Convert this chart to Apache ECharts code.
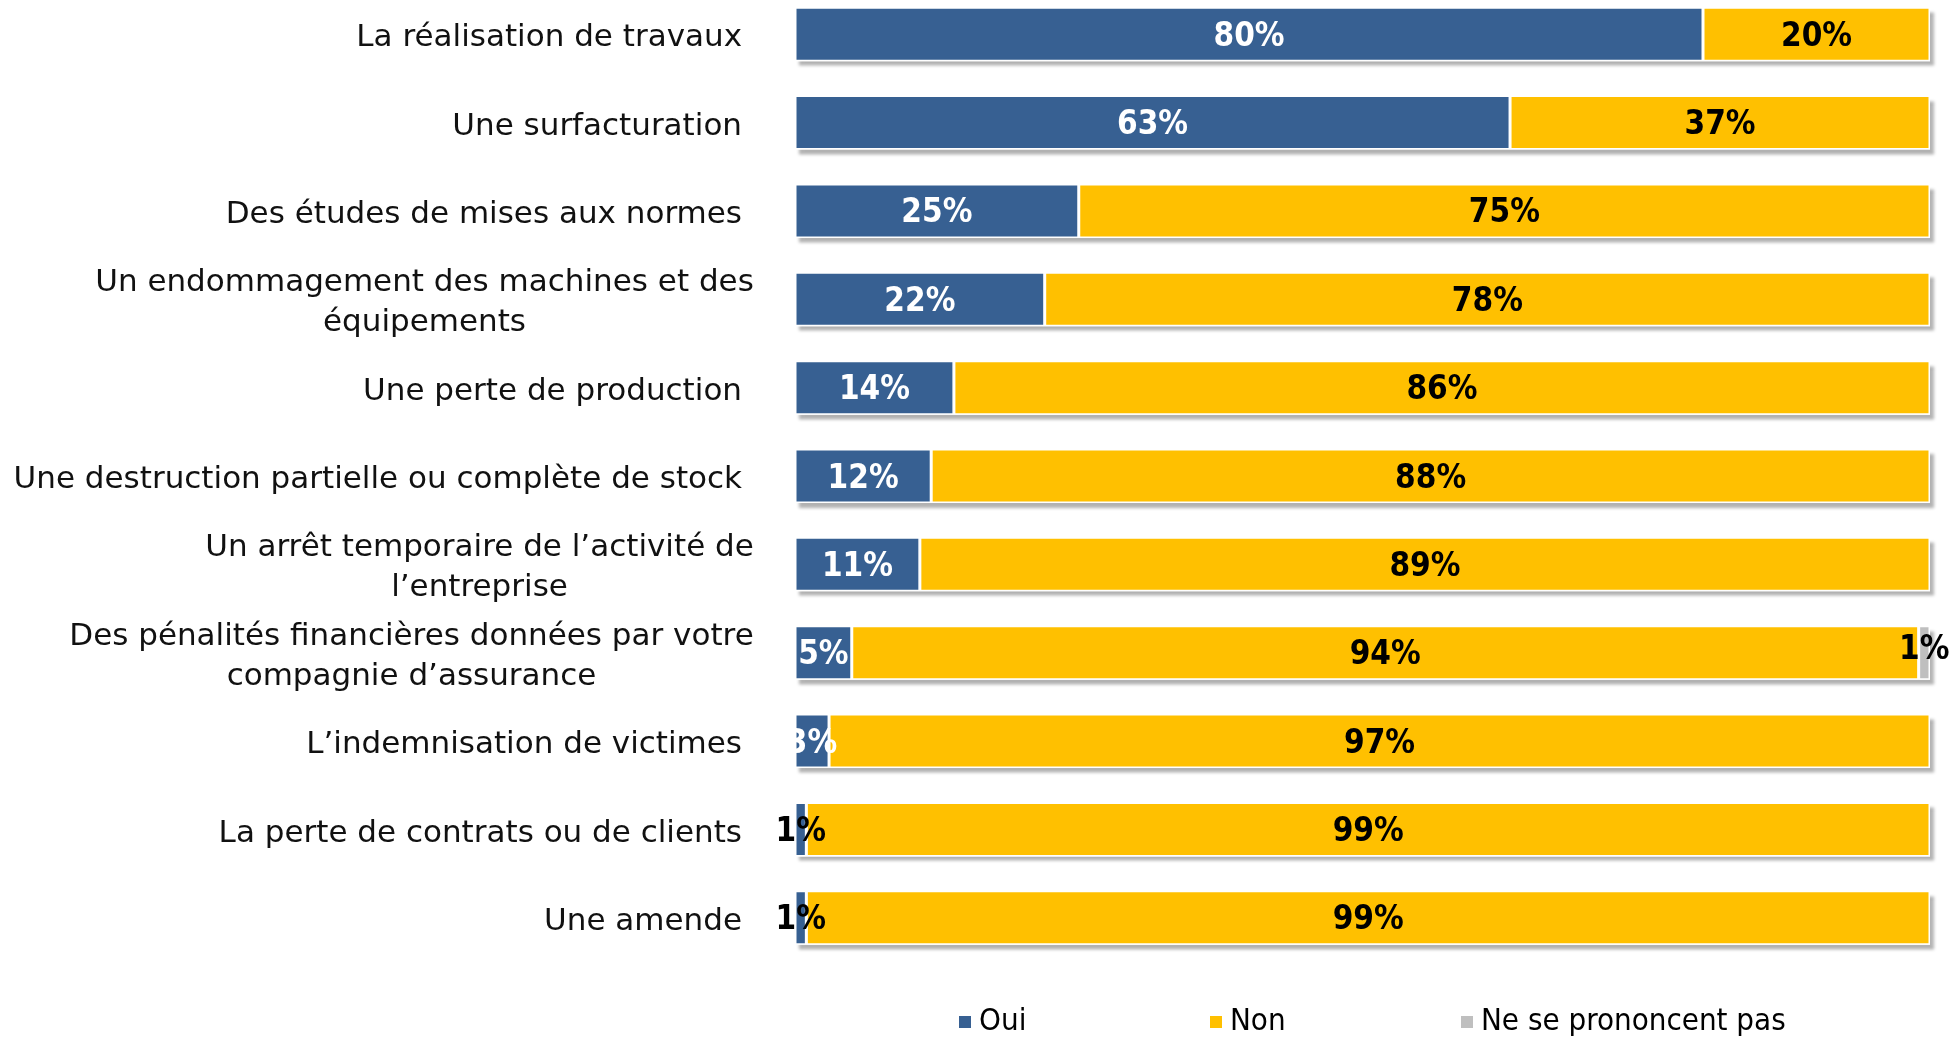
<!DOCTYPE html>
<html>
<head>
<meta charset="utf-8">
<script src="https://cdn.jsdelivr.net/npm/echarts@6/dist/echarts.min.js"></script>
<style>
  html, body { margin: 0; padding: 0; background: #fff; overflow: hidden; }
  #main { position: absolute; left: 0; top: -10px; width: 1959px; height: 1047px; }
</style>
</head>
<body>
<div id="main"></div>
<script>
  const categories = [
    'La réalisation de travaux',
    'Une surfacturation',
    'Des études de mises aux normes',
    'Un endommagement des machines et des\néquipements',
    'Une perte de production',
    'Une destruction partielle ou complète de stock',
    'Un arrêt temporaire de l’activité de\nl’entreprise',
    'Des pénalités financières données par votre\ncompagnie d’assurance',
    'L’indemnisation de victimes',
    'La perte de contrats ou de clients',
    'Une amende'
  ]
  const seriesNames = ['Oui', 'Non', 'Ne se prononcent pas']
  const oui = [80, 63, 25, 22, 14, 12, 11, 5, 3, 1, 1]
  const non = [20, 37, 75, 78, 86, 88, 89, 94, 97, 99, 99]
  const nsp = [0, 0, 0, 0, 0, 0, 0, 1, 0, 0, 0]

  const catFont = '31px "DejaVu Sans"'
  const ctx = document.createElement('canvas').getContext('2d')
  ctx.font = catFont

  // wrapped labels are centred on their longest line, single lines right-aligned
  let rich = { s: { padding: [0, 12, 0, 0], lineHeight: 40 } }
  categories.forEach((c, i) => {
    if (c.indexOf('\n') >= 0) {
      let w = Math.max(...c.split('\n').map(l => ctx.measureText(l).width))
      rich['m' + i] = { width: Math.ceil(w), align: 'center', lineHeight: 40 }
    }
  })

  // full row length, only used to paint the drop shadow behind each bar
  let totals = oui.map((v, i) => v + non[i] + nsp[i])

  const narrow = '"DejaVu Sans Condensed", "Liberation Sans Narrow", sans-serif'
  const segStyle = { borderColor: '#fff', borderWidth: 1.5 }
  const valueLabel = {
    show: true,
    position: 'inside',
    offset: [0, 3],
    color: '#000',
    fontFamily: narrow,
    fontWeight: 'bold',
    fontSize: 33,
    formatter: p => p.value + '%'
  }

  let myChart = echarts.init(document.getElementById('main'))
  myChart.setOption({
    animation: false,
    color: ['#376092', '#FFC000', '#BFBFBF'],
    legend: {
      data: seriesNames,
      left: 957,
      top: 1014,
      padding: 0,
      icon: 'rect',
      itemWidth: 14,
      itemHeight: 14,
      itemGap: 5,
      textStyle: {
        fontFamily: narrow,
        fontSize: 31,
        lineHeight: 36,
        color: '#000',
        width: 224,
        padding: [0, 0, 0, 2]
      }
    },
    grid: {
      left: 795,
      right: 29,
      top: 0,
      bottom: 75
    },
    xAxis: {
      type: 'value',
      min: 0,
      max: 100,
      show: false
    },
    yAxis: {
      type: 'category',
      inverse: true,
      data: categories,
      axisLine: { show: false },
      axisTick: { show: false },
      axisLabel: {
        margin: 41,
        padding: [8, 0, 0, 0],
        fontFamily: '"DejaVu Sans", sans-serif',
        fontSize: 31,
        color: '#111',
        lineHeight: 40,
        rich: rich,
        formatter: (value, idx) => {
          if (value.indexOf('\n') >= 0) {
            return value.split('\n').map(l => '{m' + idx + '|' + l + '}').join('\n')
          }
          return '{s|' + value + '}'
        }
      }
    },
    series: [
      {
        name: 'shadow',
        type: 'bar',
        barWidth: 54,
        barGap: '-100%',
        silent: true,
        itemStyle: {
          color: '#fff',
          shadowColor: 'rgba(0,0,0,0.3)',
          shadowBlur: 3,
          shadowOffsetX: 4,
          shadowOffsetY: 5
        },
        data: totals
      },
      {
        name: seriesNames[0],
        type: 'bar',
        stack: 'total',
        barWidth: 54,
        barGap: '-100%',
        itemStyle: segStyle,
        label: Object.assign({}, valueLabel, { color: '#fff' }),
        data: oui.map(v => v <= 1 ? { value: v, label: { color: '#000' } } : v)
      },
      {
        name: seriesNames[1],
        type: 'bar',
        stack: 'total',
        barWidth: 54,
        barGap: '-100%',
        itemStyle: segStyle,
        label: valueLabel,
        data: non
      },
      {
        name: seriesNames[2],
        type: 'bar',
        stack: 'total',
        barWidth: 54,
        barGap: '-100%',
        itemStyle: segStyle,
        label: Object.assign({}, valueLabel, { offset: [0, -2] }),
        data: nsp.map(v => v === 0 ? '-' : v)
      }
    ]
  })
</script>
</body>
</html>
